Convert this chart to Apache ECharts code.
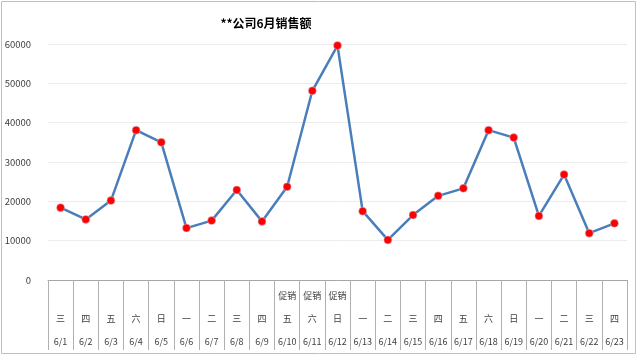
<!DOCTYPE html>
<html>
<head>
<meta charset="utf-8">
<script src="https://cdn.jsdelivr.net/npm/echarts@6/dist/echarts.min.js"></script>
<style>html,body{margin:0;padding:0;background:#fff}#c{width:640px;height:358px}</style>
</head>
<body>
<div id="c"></div>
<script>
var dates = ['6/1','6/2','6/3','6/4','6/5','6/6','6/7','6/8','6/9','6/10','6/11','6/12','6/13','6/14','6/15','6/16','6/17','6/18','6/19','6/20','6/21','6/22','6/23'];
var weekdays = ['三','四','五','六','日','一','二','三','四','五','六','日','一','二','三','四','五','六','日','一','二','三','四'];
var promo = ['','','','','','','','','','促销','促销','促销','','','','','','','','','','',''];
var sales = [18400,15400,20200,38100,35000,13200,15100,22900,14900,23700,48100,59600,17500,10200,16500,21400,23300,38100,36200,16300,26800,11900,14400];
var yTicks = [0,10000,20000,30000,40000,50000,60000];

var chart = echarts.init(document.getElementById('c'));
var font = '"Noto Sans CJK SC","Noto Sans",sans-serif';
chart.setOption({
  animation: false,
  title: {
    text: '**公司6月销售额',
    left: 261, top: 12, textAlign: 'center',
    textStyle: {fontSize: 12, fontWeight: 'bold', color: '#000', fontFamily: font}
  },
  grid: {left: 48, right: 13, top: 44, bottom: 78, containLabel: false},
  xAxis: {
    type: 'category',
    data: dates,
    boundaryGap: true,
    axisLine: {lineStyle: {color: '#a6a6a6', width: 1}},
    axisTick: {show: true, interval: 0, length: 70, lineStyle: {color: '#b0b0b0'}},
    axisLabel: {
      interval: 0, margin: 4,
      fontFamily: font,
      formatter: function (v, i) {
        return (promo[i] ? '{a|' + promo[i] + '}' : '{a| }') + '\n{b|' + weekdays[i] + '}\n{c|' + v + '}';
      },
      rich: {
        a: {fontSize: 9, lineHeight: 23, color: '#404040', fontFamily: font},
        b: {fontSize: 9, lineHeight: 23, color: '#404040', fontFamily: font},
        c: {fontSize: 9, lineHeight: 23, color: '#404040', fontFamily: font}
      }
    }
  },
  yAxis: {
    type: 'value',
    min: yTicks[0], max: yTicks[yTicks.length - 1], interval: yTicks[1] - yTicks[0],
    axisLine: {show: false},
    axisTick: {show: false},
    splitLine: {lineStyle: {color: '#ececec', width: 1}},
    axisLabel: {margin: 17, fontSize: 9.5, color: '#404040', fontFamily: font,
      formatter: function (v) { return String(v); }}
  },
  series: [{
    type: 'line',
    data: sales,
    symbol: 'circle',
    symbolSize: 8,
    lineStyle: {color: '#4a7ebb', width: 2.5},
    itemStyle: {color: '#ff0000', borderColor: '#c9d7ea', borderWidth: 0.5}
  }],
  graphic: [{
    type: 'rect', silent: true,
    shape: {x: 1.5, y: 1.5, width: 634, height: 352},
    style: {fill: 'none', stroke: '#c0c0c0', lineWidth: 1}
  }]
});
</script>
</body>
</html>
